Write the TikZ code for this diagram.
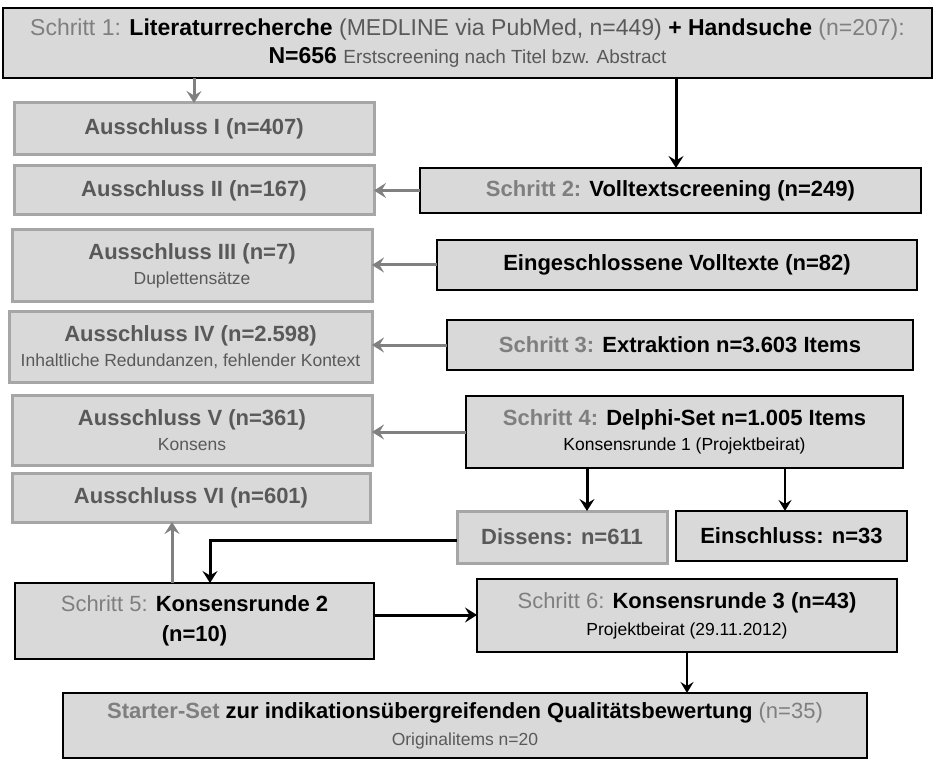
\documentclass[tikz,border=0pt]{standalone}
\usepackage{fontspec}
\setmainfont{Liberation Sans}
\usetikzlibrary{arrows.meta}
\definecolor{boxfill}{HTML}{D9D9D9}
\definecolor{lab}{HTML}{7F7F7F}
\definecolor{extxt}{HTML}{595959}
\definecolor{exline}{HTML}{A6A6A6}
\definecolor{garrow}{HTML}{808080}
\newcommand{\subtxt}{\fontsize{17.5}{20}\selectfont}
\tikzset{
  mybase/.style={fill=boxfill, inner sep=0pt, outer sep=0pt, align=center,
    font=\fontsize{22}{25}\selectfont},
  blackbox/.style={mybase, draw=black, line width=2.5pt},
  greybox/.style={mybase, draw=exline, line width=3pt, text=extxt},
  mytip/.style={-{Stealth[length=12pt,width=15pt,inset=4.5pt]}},
  garr/.style={draw=garrow, line width=3pt, mytip},
  barr/.style={draw=black, line width=3pt, mytip},
  tarr/.style={draw=black, line width=2pt, -{Stealth[length=11pt,width=13pt,inset=4pt]}}
}
\begin{document}
\begin{tikzpicture}[x=1pt,y=-1pt]
\useasboundingbox (0,0) rectangle (935,762);
% step 1
\node[blackbox, font=\fontsize{23}{28}\selectfont, minimum width=929pt, minimum height=70pt] (b1) at (467.5,43)
  {\textcolor{lab}{Schritt 1:} \textbf{Literaturrecherche} \textcolor{extxt}{(MEDLINE via PubMed, n=449)} \textbf{+ Handsuche} \textcolor{lab}{(n=207):}\\
   \textbf{N=656} {\fontsize{19}{20}\selectfont\textcolor{extxt}{Erstscreening nach Titel bzw. Abstract}}};
% exclusions
\node[greybox, minimum width=360pt, minimum height=52pt] (a1) at (194,129) {\textbf{Ausschluss I (n=407)}};
\node[greybox, minimum width=360pt, minimum height=49pt] (a2) at (194,190.5) {\textbf{Ausschluss II (n=167)}};
\node[greybox, minimum width=360pt, minimum height=72pt] (a3) at (192,266) {\textbf{Ausschluss III (n=7)}\\{\subtxt Duplettensätze}};
\node[greybox, minimum width=363pt, minimum height=70pt] (a4) at (190.5,347) {\textbf{Ausschluss IV (n=2.598)}\\{\subtxt Inhaltliche Redundanzen, fehlender Kontext}};
\node[greybox, minimum width=360pt, minimum height=70pt] (a5) at (192,430) {\textbf{Ausschluss V (n=361)}\\{\subtxt Konsens}};
\node[greybox, minimum width=358pt, minimum height=49pt] (a6) at (191,497.5) {\textbf{Ausschluss VI (n=601)}};
% right column
\node[blackbox, minimum width=501pt, minimum height=45pt] (s2) at (670.5,190.5)
  {\textcolor{lab}{\textbf{Schritt 2:}} \textbf{Volltextscreening (n=249)}};
\node[blackbox, minimum width=480pt, minimum height=50pt] (ev) at (677,265)
  {\textbf{Eingeschlossene Volltexte (n=82)}};
\node[blackbox, minimum width=466pt, minimum height=50pt] (s3) at (680,345)
  {\textcolor{lab}{\textbf{Schritt 3:}} \textbf{Extraktion n=3.603 Items}};
\node[blackbox, minimum width=437pt, minimum height=72pt] (s4) at (684.5,432)
  {\textcolor{lab}{\textbf{Schritt 4:}} \textbf{Delphi-Set n=1.005 Items}\\{\subtxt Konsensrunde 1 (Projektbeirat)}};
\node[greybox, minimum width=210pt, minimum height=52pt] (dis) at (562,537) {\textbf{Dissens: n=611}};
\node[blackbox, minimum width=231pt, minimum height=50pt] (ein) at (791.5,536) {\textbf{Einschluss: n=33}};
% lower part
\node[blackbox, minimum width=359pt, minimum height=76pt] (s5) at (194.5,621)
  {\textcolor{lab}{Schritt 5:} \textbf{Konsensrunde 2}\\[5pt]\textbf{(n=10)}};
\node[blackbox, minimum width=420pt, minimum height=73pt] (s6) at (687,615.5)
  {\textcolor{lab}{Schritt 6:} \textbf{Konsensrunde 3 (n=43)}\\[2pt]{\subtxt Projektbeirat (29.11.2012)}};
\node[blackbox, minimum width=804pt, minimum height=65pt] (st) at (465,725.5)
  {\textcolor{lab}{\textbf{Starter-Set}} \textbf{zur indikationsübergreifenden Qualitätsbewertung} \textcolor{lab}{(n=35)}\\[2pt]{\subtxt\textcolor{extxt}{Originalitems n=20}}};
% connectors
\draw[garr] (b1.south -| a1.north) -- (a1.north);
\draw[barr] ([xshift=5.5pt]b1.south -| s2.north) -- ([xshift=5.5pt]s2.north);
\draw[garr] (s2.west) -- (s2.west -| a2.east);
\draw[garr] (ev.west) -- (ev.west -| a3.east);
\draw[garr] (s3.west) -- (s3.west -| a4.east);
\draw[garr] (s4.west) -- (s4.west -| a5.east);
\draw[barr] ([xshift=25pt]s4.south -| dis.north) -- ([xshift=25pt]dis.north);
\draw[tarr] ([xshift=-6.5pt]s4.south -| ein.north) -- ([xshift=-6.5pt]ein.north);
\draw[barr] ([yshift=-3pt]dis.west) -| ([xshift=15.5pt]s5.north);
\draw[garr] ([xshift=-22.5pt]s5.north) -- ([xshift=-22.5pt]s5.north |- a6.south);
\draw[barr] ([yshift=6pt]s5.east) -- ([yshift=6pt]s5.east -| s6.west);
\draw[tarr] (s6.south) -- (s6.south |- st.north);
\end{tikzpicture}
\end{document}
